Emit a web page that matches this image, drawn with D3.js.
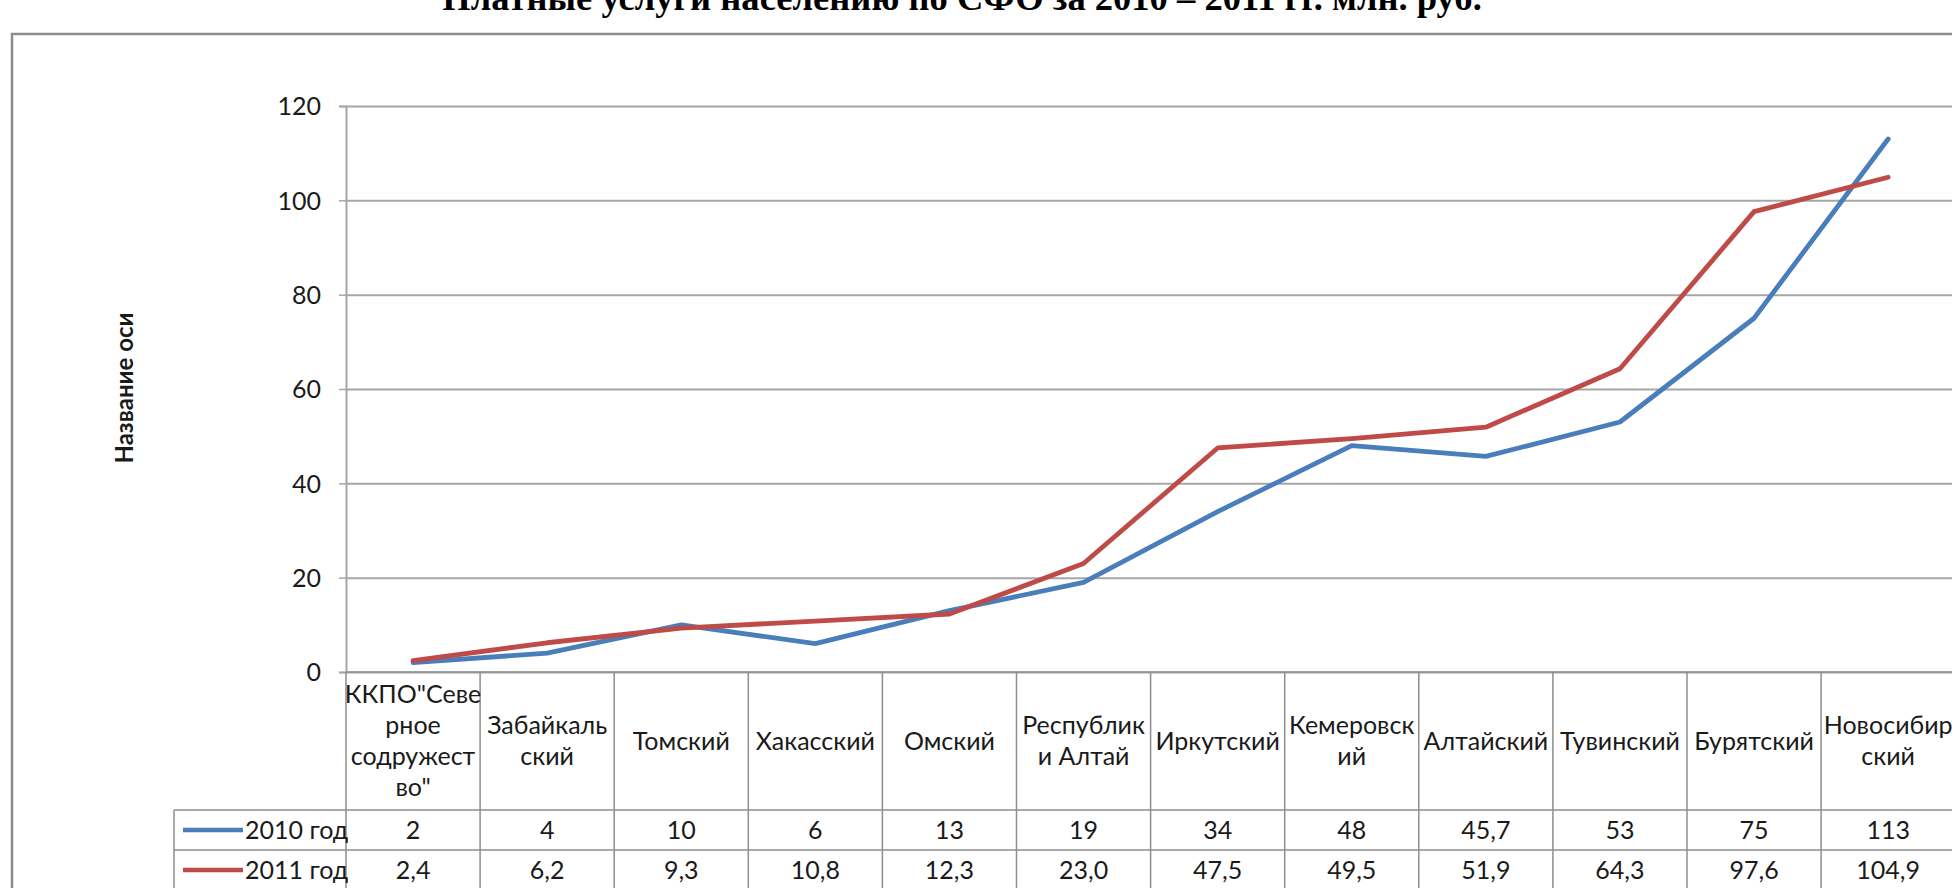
<!DOCTYPE html>
<html>
<head>
<meta charset="utf-8">
<title>Платные услуги</title>
<script src="https://d3js.org/d3.v7.min.js"></script>
<style>
  body { margin: 0; background: #fff; }
  svg { display: block; }
  .lbl { font-family: Lato, "Open Sans", sans-serif; fill: #1a1a1a; }
</style>
</head>
<body>
<div id="chart"></div>
<script>
// data
var categories = ["ККПО\"Севе\nрное\nсодружест\nво\"", "Забайкаль\nский", "Томский", "Хакасский", "Омский",
    "Республик\nи Алтай", "Иркутский", "Кемеровск\nий", "Алтайский", "Тувинский", "Бурятский", "Новосибир\nский"];
var seriesNames = ["2010 год", "2011 год"];
var values2010 = [2, 4, 10, 6, 13, 19, 34, 48, 45.7, 53, 75, 113];
var values2011 = [2.4, 6.2, 9.3, 10.8, 12.3, 23.0, 47.5, 49.5, 51.9, 64.3, 97.6, 104.9];
var yTicks = [0, 20, 40, 60, 80, 100, 120];
var colors = ["#4a7ebb", "#be4b48"];
var title = "Платные услуги населению по СФО за 2010 – 2011 гг. млн. руб.";
var axisTitle = "Название оси";

var width = 1952, height = 888;
var plotLeft = 346, plotTop = 106, plotBottom = 672, colW = 134.1;
var rowH = 40, headBottom = 810, legendLeft = 174;

var svg = d3.select("#chart").append("svg").attr("width", width).attr("height", height);

// title (cut off at the top like the source)
var t = svg.append("text").attr("x", 962).attr("y", 10).attr("text-anchor", "middle")
    .style("font-family", "'Liberation Serif', 'Times New Roman', serif").style("font-weight", "bold")
    .style("font-size", "34px").text(title);
var tl = t.node().getComputedTextLength();
t.style("font-size", (34 * 1040 / tl) + "px");

// chart frame
svg.append("rect").attr("x", 12).attr("y", 34).attr("width", width + 20).attr("height", height + 20)
    .attr("fill", "none").attr("stroke", "#8c8c8c").attr("stroke-width", 2.5);

var x = d3.scaleBand().domain(categories).range([plotLeft, plotLeft + colW * categories.length]);
var y = d3.scaleLinear().domain([0, 120]).range([plotBottom, plotTop]);
var cx = function(i) { return x(categories[i]) + x.bandwidth() / 2; };

// grid + y axis
var grid = svg.append("g").attr("transform", "translate(" + plotLeft + ",0)")
    .call(d3.axisLeft(y).tickValues(yTicks).tickSize(-(width - plotLeft + 10)).tickFormat(""));
grid.select(".domain").remove();
grid.selectAll("line").attr("stroke", "#a6a6a6").attr("stroke-width", 2);

var yAxis = svg.append("g").attr("transform", "translate(" + plotLeft + ",0)")
    .call(d3.axisLeft(y).tickValues(yTicks).tickSize(7).tickPadding(18));
yAxis.select(".domain").attr("stroke", "#a6a6a6").attr("stroke-width", 2);
yAxis.selectAll(".tick line").attr("stroke", "#a6a6a6").attr("stroke-width", 1.5);
yAxis.selectAll("text").attr("class", "lbl").style("font-size", "25px").attr("dy", "0.35em");

svg.append("text").attr("class", "lbl")
    .attr("transform", "translate(133,388) rotate(-90)").attr("text-anchor", "middle")
    .style("font-size", "24px").style("font-weight", "bold").text(axisTitle);

// data table
var tg = svg.append("g").attr("stroke", "#8e8e8e").attr("stroke-width", 1.5);
var right = width + 10;
[plotBottom, headBottom, headBottom + rowH, headBottom + 2 * rowH].forEach(function(yy, k) {
    tg.append("line").attr("x1", k === 0 ? plotLeft : legendLeft).attr("x2", right).attr("y1", yy).attr("y2", yy);
});
d3.range(categories.length + 1).forEach(function(i) {
    var xx = plotLeft + i * colW;
    tg.append("line").attr("x1", xx).attr("x2", xx).attr("y1", plotBottom).attr("y2", height + 5);
});
tg.append("line").attr("x1", legendLeft).attr("x2", legendLeft).attr("y1", headBottom).attr("y2", height + 5);

// category headers
categories.forEach(function(c, i) {
    var lines = c.split("\n");
    var lh = 31, mid = (plotBottom + headBottom) / 2;
    var txt = svg.append("text").attr("class", "lbl").attr("text-anchor", "middle").style("font-size", "25px");
    lines.forEach(function(s, j) {
        txt.append("tspan").attr("x", cx(i))
            .attr("y", mid + (j - (lines.length - 1) / 2) * lh).attr("dy", "0.35em").text(s);
    });
});

// value rows with legend keys
var fmt = [function(d) { return String(d).replace(".", ","); },
           function(d) { return d3.format(".1f")(d).replace(".", ","); }];
[values2010, values2011].forEach(function(vals, s) {
    var ry = headBottom + rowH * s + rowH / 2;
    svg.append("line").attr("x1", 183).attr("x2", 243).attr("y1", ry).attr("y2", ry)
        .attr("stroke", colors[s]).attr("stroke-width", 4.5);
    svg.append("text").attr("class", "lbl").attr("x", 245).attr("y", ry).attr("dy", "0.35em")
        .style("font-size", "25px").text(seriesNames[s]);
    vals.forEach(function(v, i) {
        svg.append("text").attr("class", "lbl").attr("x", cx(i)).attr("y", ry).attr("dy", "0.35em")
            .attr("text-anchor", "middle").style("font-size", "25px").text(fmt[s](v));
    });
});

// lines
var line = d3.line().x(function(d, i) { return cx(i); }).y(function(d) { return y(d); });
[values2010, values2011].forEach(function(vals, s) {
    svg.append("path").datum(vals).attr("d", line).attr("fill", "none")
        .attr("stroke", colors[s]).attr("stroke-width", 4.8)
        .attr("stroke-linejoin", "round").attr("stroke-linecap", "round");
});
</script>
</body>
</html>
